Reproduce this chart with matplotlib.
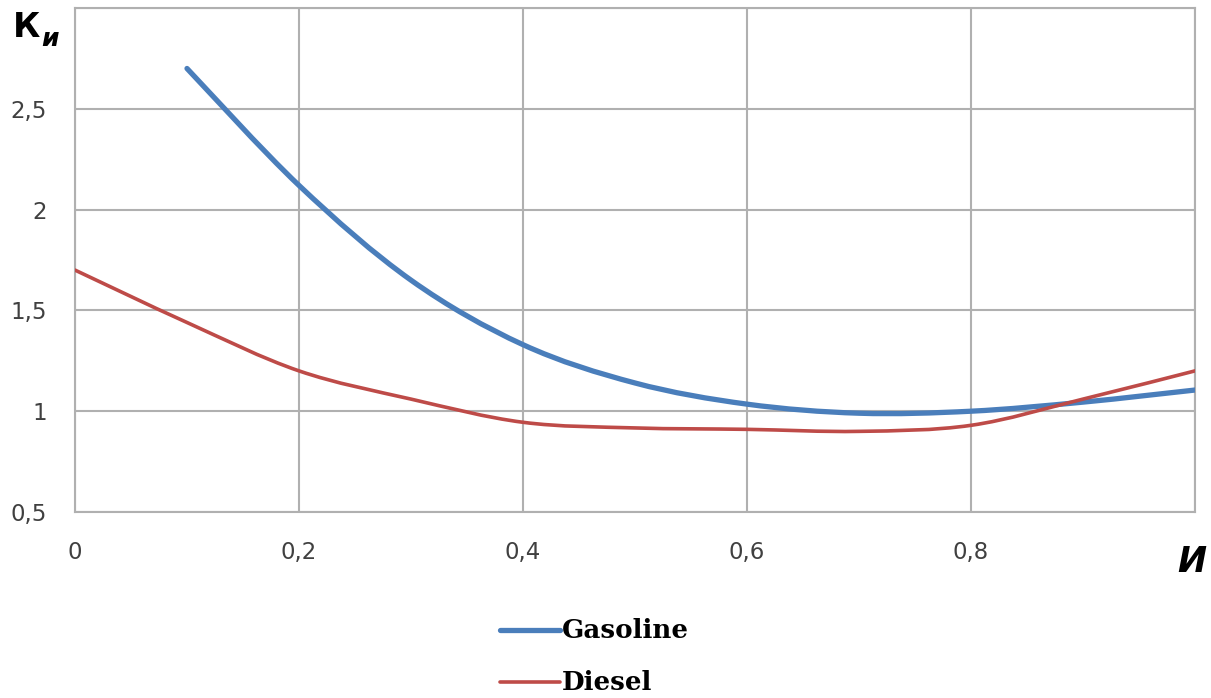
import numpy as np
import matplotlib
matplotlib.use("Agg")
import matplotlib.pyplot as plt
from matplotlib.path import Path
from matplotlib.patches import PathPatch
from matplotlib.lines import Line2D

# ---- data ----
gas_x = [0.1, 0.2, 0.3, 0.4, 0.5, 0.6, 0.7, 0.8, 0.9, 1.0]
gas_y = [2.70, 2.12, 1.65, 1.33, 1.14, 1.035, 0.99, 1.00, 1.045, 1.105]
dsl_x = [0.0, 0.1, 0.2, 0.3, 0.4, 0.5, 0.6, 0.7, 0.8, 0.9, 1.0]
dsl_y = [1.70, 1.44, 1.20, 1.06, 0.945, 0.917, 0.91, 0.90, 0.93, 1.06, 1.20]
x_ticks = [0, 0.2, 0.4, 0.6, 0.8]
x_labels = ["0", "0,2", "0,4", "0,6", "0,8"]
y_ticks = [0.5, 1, 1.5, 2, 2.5]
y_labels = ["0,5", "1", "1,5", "2", "2,5"]
series_names = ["Gasoline", "Diesel"]

BLUE = "#4a7ebb"
RED = "#be4b48"


def smooth_path(xs, ys, t=1/6):
    """Catmull-Rom style bezier path (like Excel smoothed line)."""
    pts = np.column_stack([xs, ys])
    n = len(pts)
    verts = [pts[0]]
    codes = [Path.MOVETO]
    for i in range(n - 1):
        p0 = pts[i - 1] if i > 0 else pts[i]
        p1 = pts[i]
        p2 = pts[i + 1]
        p3 = pts[i + 2] if i + 2 < n else pts[i + 1]
        c1 = p1 + (p2 - p0) * t
        c2 = p2 - (p3 - p1) * t
        verts += [c1, c2, p2]
        codes += [Path.CURVE4] * 3
    return Path(verts, codes)


fig = plt.figure(figsize=(12.11, 6.98), dpi=100)
ax = fig.add_axes([75/1211, 1 - 512/698, 1120/1211, 504/698])
ax.set_xlim(0, 1.0)
ax.set_ylim(0.5, 3.0)

ax.add_patch(PathPatch(smooth_path(gas_x, gas_y), facecolor="none",
                       edgecolor=BLUE, lw=3.8, capstyle="round", zorder=3))
ax.add_patch(PathPatch(smooth_path(dsl_x, dsl_y), facecolor="none",
                       edgecolor=RED, lw=2.6, capstyle="round", zorder=4))

ax.set_xticks(x_ticks)
ax.set_xticklabels(x_labels)
ax.set_yticks(y_ticks)
ax.set_yticklabels(y_labels)
ax.xaxis.set_minor_locator(matplotlib.ticker.FixedLocator([1.0]))
ax.yaxis.set_minor_locator(matplotlib.ticker.FixedLocator([3.0]))
ax.grid(True, which="both", color="#b0b0b0", lw=1.5)
ax.set_axisbelow(True)
ax.tick_params(axis="both", which="both", length=0, labelsize=16.5,
               labelcolor="#404040")
ax.tick_params(axis="x", pad=21)
ax.tick_params(axis="y", pad=20)
for s in ax.spines.values():
    s.set_color("#b0b0b0")
    s.set_linewidth(1.5)

# axis labels
fig.text(13/1211, 1 - 37/698, "К", fontsize=24, fontweight="bold",
         ha="left", va="baseline", color="black")
fig.text(41/1211, 1 - 46/698, "и", fontsize=18, fontweight="bold",
         ha="left", va="baseline", color="black", style="italic")
fig.text(1206/1211, 1 - 572/698, "И", fontsize=25, fontweight="bold",
         style="italic", ha="right", va="baseline", color="black")

# legend
for yy, col, lw, name in [(630, BLUE, 3.8, series_names[0]),
                          (682, RED, 2.6, series_names[1])]:
    fig.add_artist(Line2D([500/1211, 560/1211], [1 - yy/698, 1 - yy/698],
                          color=col, lw=lw, solid_capstyle="round"))
    fig.text(562/1211, 1 - yy/698, name, fontsize=18.8, fontweight="bold",
             family="DejaVu Serif", ha="left", va="center", color="black")

fig.savefig("out.png", dpi=100)
